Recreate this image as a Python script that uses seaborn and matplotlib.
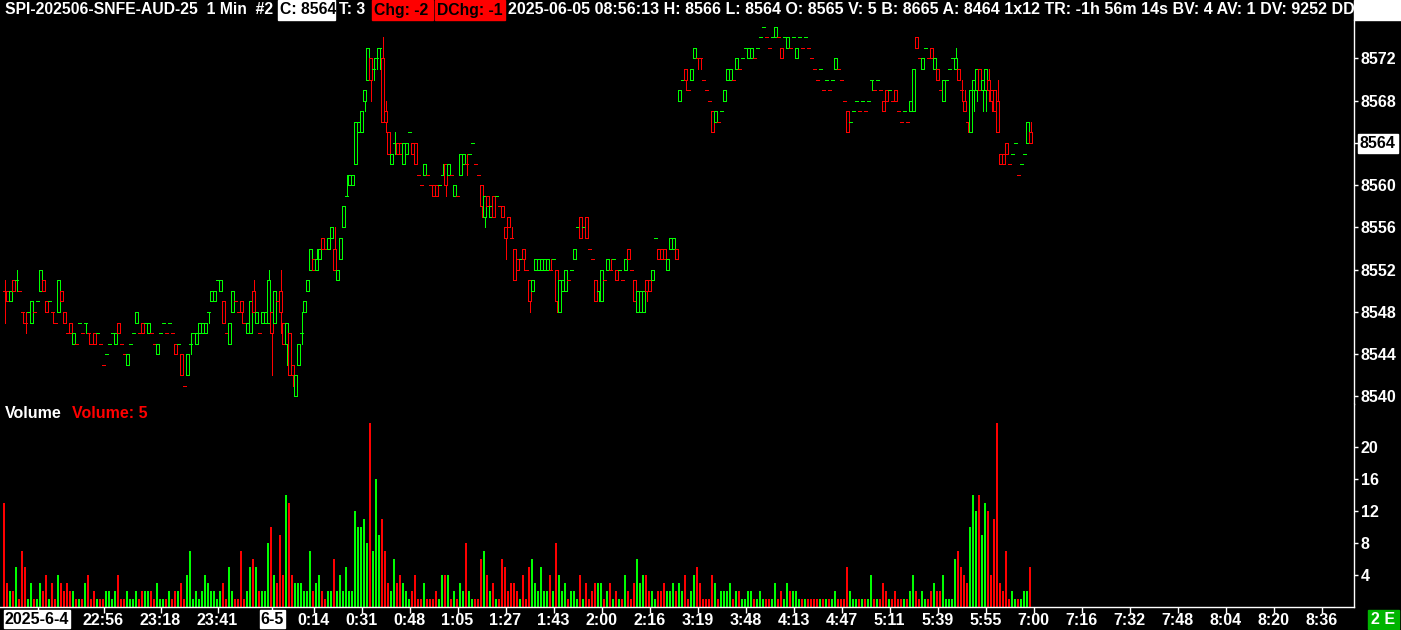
import numpy as np
import pandas as pd
import matplotlib
matplotlib.use("Agg")
import matplotlib.pyplot as plt
from matplotlib.patches import Rectangle
import seaborn as sns

# 1-minute bars, SPI futures (bar index 0..342)
opens = [
    8550, 8550, 8549, 8551, 8551, 8550, 8548, 8547, 8548, 8547,
    8548, 8549, 8550, 8551, 8549, 8549, 8548, 8547, 8548, 8550,
    8548, 8546, 8547, 8545, 8545, 8547, 8546, 8547, 8546, 8545,
    8546, 8546, 8545, 8543, 8544, 8545, 8546, 8545, 8547, 8545,
    8544, 8543, 8545, 8546, 8547, 8546, 8547, 8547, 8546, 8546,
    8545, 8544, 8546, 8547, 8546, 8547, 8546, 8545, 8545, 8544,
    8541, 8542, 8545, 8546, 8545, 8546, 8546, 8546, 8548, 8549,
    8549, 8551, 8550, 8549, 8546, 8545, 8548, 8549, 8548, 8549,
    8547, 8546, 8546, 8550, 8547, 8546, 8547, 8547, 8547, 8548,
    8547, 8549, 8550, 8547, 8545, 8546, 8543, 8540, 8543, 8546,
    8548, 8550, 8552, 8553, 8552, 8553, 8555, 8554, 8554, 8555,
    8554, 8551, 8553, 8556, 8559, 8560, 8560, 8562, 8565, 8565,
    8568, 8570, 8572, 8571, 8572, 8573, 8572, 8567, 8565, 8562,
    8564, 8564, 8564, 8562, 8563, 8565, 8564, 8564, 8561, 8560,
    8561, 8561, 8560, 8560, 8560, 8560, 8561, 8562, 8561, 8561,
    8559, 8559, 8561, 8562, 8562, 8563, 8564, 8562, 8561, 8560,
    8557, 8559, 8557, 8559, 8559, 8558, 8558, 8556, 8557, 8555,
    8554, 8553, 8553, 8554, 8552, 8551, 8550, 8552, 8552, 8552,
    8552, 8552, 8552, 8553, 8552, 8548, 8550, 8550, 8551, 8552,
    8553, 8556, 8557, 8556, 8557, 8554, 8553, 8551, 8550, 8549,
    8551, 8552, 8552, 8553, 8552, 8552, 8551, 8552, 8554, 8552,
    8551, 8548, 8548, 8548, 8551, 8551, 8551, 8555, 8554, 8554,
    8554, 8552, 8554, 8554, 8554, 8568, 8570, 8571, 8569, 8570,
    8572, 8572, 8572, 8570, 8569, 8568, 8567, 8566, 8566, 8567,
    8568, 8570, 8570, 8570, 8571, 8571, 8572, 8573, 8572, 8572,
    8572, 8573, 8574, 8575, 8574, 8573, 8574, 8574, 8574, 8573,
    8574, 8573, 8573, 8574, 8572, 8574, 8573, 8574, 8573, 8572,
    8571, 8570, 8571, 8569, 8570, 8569, 8570, 8571, 8571, 8570,
    8568, 8567, 8566, 8567, 8568, 8567, 8568, 8567, 8568, 8570,
    8569, 8570, 8569, 8568, 8569, 8569, 8568, 8569, 8567, 8566,
    8567, 8566, 8567, 8567, 8574, 8572, 8571, 8573, 8572, 8573,
    8571, 8571, 8569, 8568, 8570, 8571, 8572, 8571, 8571, 8569,
    8568, 8566, 8565, 8569, 8569, 8571, 8569, 8569, 8570, 8569,
    8569, 8568, 8563, 8563, 8564, 8562, 8563, 8564, 8561, 8562,
    8563, 8564, 8565,
]
highs = [
    8551, 8550, 8550, 8551, 8552, 8550, 8548, 8548, 8548, 8549,
    8548, 8549, 8552, 8551, 8549, 8549, 8548, 8547, 8551, 8550,
    8548, 8546, 8547, 8546, 8545, 8547, 8546, 8547, 8546, 8545,
    8546, 8546, 8545, 8543, 8544, 8545, 8546, 8546, 8547, 8545,
    8544, 8544, 8545, 8546, 8548, 8546, 8547, 8547, 8547, 8546,
    8545, 8545, 8546, 8547, 8546, 8547, 8546, 8545, 8545, 8544,
    8541, 8544, 8546, 8546, 8546, 8547, 8547, 8547, 8548, 8550,
    8550, 8551, 8551, 8549, 8546, 8547, 8550, 8549, 8548, 8549,
    8547, 8547, 8549, 8551, 8548, 8546, 8548, 8548, 8552, 8548,
    8550, 8549, 8552, 8547, 8547, 8546, 8543, 8542, 8545, 8548,
    8549, 8551, 8554, 8553, 8554, 8554, 8555, 8554, 8555, 8556,
    8556, 8552, 8555, 8558, 8561, 8561, 8561, 8566, 8566, 8567,
    8569, 8573, 8572, 8572, 8573, 8573, 8574, 8568, 8565, 8563,
    8565, 8564, 8564, 8564, 8564, 8565, 8564, 8564, 8561, 8560,
    8562, 8561, 8560, 8560, 8560, 8560, 8562, 8562, 8562, 8561,
    8560, 8559, 8563, 8563, 8563, 8563, 8564, 8562, 8561, 8560,
    8559, 8559, 8558, 8559, 8559, 8558, 8558, 8556, 8557, 8556,
    8554, 8553, 8553, 8554, 8552, 8551, 8551, 8553, 8553, 8553,
    8553, 8553, 8553, 8553, 8552, 8551, 8551, 8552, 8551, 8552,
    8554, 8556, 8557, 8556, 8557, 8554, 8553, 8551, 8550, 8552,
    8551, 8553, 8553, 8553, 8552, 8552, 8551, 8553, 8554, 8552,
    8551, 8550, 8550, 8550, 8551, 8551, 8552, 8555, 8554, 8554,
    8554, 8553, 8555, 8555, 8554, 8569, 8570, 8571, 8569, 8571,
    8573, 8572, 8572, 8570, 8569, 8568, 8567, 8567, 8566, 8567,
    8569, 8571, 8571, 8570, 8572, 8571, 8572, 8573, 8573, 8573,
    8572, 8573, 8574, 8575, 8574, 8573, 8574, 8575, 8574, 8573,
    8574, 8574, 8573, 8574, 8573, 8574, 8573, 8574, 8573, 8572,
    8571, 8570, 8571, 8569, 8570, 8569, 8570, 8572, 8571, 8570,
    8568, 8567, 8566, 8567, 8568, 8567, 8568, 8567, 8568, 8570,
    8569, 8570, 8569, 8568, 8569, 8569, 8568, 8569, 8567, 8566,
    8567, 8566, 8568, 8571, 8574, 8572, 8572, 8573, 8572, 8573,
    8572, 8571, 8569, 8570, 8570, 8571, 8572, 8573, 8571, 8570,
    8569, 8566, 8569, 8570, 8571, 8571, 8570, 8571, 8571, 8569,
    8569, 8570, 8563, 8563, 8564, 8562, 8563, 8564, 8561, 8562,
    8563, 8566, 8566,
]
lows = [
    8547, 8549, 8549, 8550, 8550, 8550, 8547, 8546, 8548, 8547,
    8548, 8549, 8550, 8550, 8548, 8549, 8547, 8547, 8548, 8549,
    8547, 8546, 8546, 8545, 8545, 8547, 8546, 8546, 8545, 8545,
    8545, 8546, 8545, 8543, 8544, 8545, 8546, 8545, 8546, 8545,
    8544, 8543, 8545, 8546, 8547, 8546, 8546, 8547, 8546, 8546,
    8545, 8544, 8546, 8547, 8546, 8547, 8546, 8544, 8545, 8542,
    8541, 8542, 8544, 8546, 8545, 8546, 8546, 8546, 8547, 8549,
    8549, 8551, 8550, 8547, 8546, 8545, 8548, 8549, 8548, 8547,
    8547, 8546, 8546, 8548, 8547, 8546, 8547, 8547, 8547, 8542,
    8547, 8549, 8546, 8545, 8543, 8542, 8541, 8540, 8543, 8545,
    8548, 8550, 8552, 8552, 8552, 8553, 8554, 8554, 8554, 8555,
    8552, 8551, 8553, 8556, 8559, 8560, 8560, 8562, 8565, 8565,
    8567, 8570, 8568, 8570, 8571, 8571, 8566, 8565, 8563, 8562,
    8563, 8563, 8563, 8562, 8563, 8565, 8563, 8562, 8561, 8560,
    8561, 8561, 8560, 8559, 8559, 8560, 8561, 8559, 8561, 8561,
    8559, 8559, 8561, 8562, 8561, 8563, 8564, 8562, 8561, 8557,
    8556, 8558, 8557, 8557, 8559, 8558, 8557, 8553, 8556, 8555,
    8551, 8552, 8553, 8552, 8552, 8548, 8550, 8552, 8552, 8552,
    8552, 8552, 8552, 8553, 8548, 8548, 8550, 8550, 8551, 8552,
    8553, 8556, 8555, 8556, 8555, 8554, 8553, 8549, 8549, 8549,
    8551, 8552, 8552, 8553, 8551, 8552, 8551, 8552, 8553, 8552,
    8549, 8548, 8548, 8548, 8549, 8550, 8551, 8555, 8553, 8553,
    8553, 8552, 8554, 8554, 8553, 8568, 8570, 8569, 8569, 8570,
    8572, 8571, 8571, 8570, 8569, 8568, 8565, 8566, 8566, 8567,
    8568, 8570, 8570, 8570, 8571, 8571, 8572, 8573, 8572, 8572,
    8572, 8573, 8574, 8575, 8574, 8573, 8574, 8574, 8574, 8572,
    8574, 8573, 8573, 8574, 8572, 8574, 8573, 8574, 8573, 8572,
    8571, 8570, 8571, 8569, 8570, 8569, 8570, 8571, 8571, 8570,
    8568, 8565, 8566, 8567, 8568, 8567, 8568, 8567, 8568, 8569,
    8569, 8570, 8569, 8567, 8568, 8569, 8568, 8568, 8567, 8566,
    8567, 8566, 8567, 8567, 8573, 8572, 8571, 8573, 8572, 8572,
    8571, 8570, 8569, 8568, 8570, 8571, 8572, 8571, 8570, 8568,
    8567, 8565, 8565, 8567, 8568, 8569, 8567, 8567, 8568, 8567,
    8567, 8565, 8562, 8562, 8563, 8562, 8563, 8564, 8561, 8562,
    8563, 8564, 8564,
]
closes = [
    8550, 8549, 8550, 8550, 8551, 8550, 8548, 8547, 8548, 8549,
    8548, 8549, 8552, 8550, 8548, 8549, 8548, 8547, 8551, 8549,
    8547, 8546, 8546, 8546, 8545, 8547, 8546, 8547, 8546, 8545,
    8545, 8546, 8545, 8543, 8544, 8545, 8546, 8546, 8546, 8545,
    8544, 8544, 8545, 8546, 8548, 8546, 8546, 8547, 8547, 8546,
    8545, 8545, 8546, 8547, 8546, 8547, 8546, 8544, 8545, 8542,
    8541, 8544, 8545, 8546, 8546, 8547, 8547, 8547, 8548, 8550,
    8550, 8551, 8551, 8547, 8546, 8547, 8550, 8549, 8548, 8548,
    8547, 8547, 8549, 8548, 8548, 8546, 8548, 8548, 8551, 8546,
    8550, 8549, 8548, 8545, 8547, 8542, 8542, 8542, 8545, 8546,
    8549, 8551, 8554, 8552, 8553, 8554, 8554, 8554, 8555, 8556,
    8552, 8552, 8555, 8558, 8559, 8561, 8561, 8566, 8566, 8567,
    8569, 8573, 8570, 8571, 8572, 8573, 8566, 8566, 8563, 8563,
    8564, 8563, 8563, 8564, 8564, 8565, 8563, 8562, 8561, 8560,
    8562, 8561, 8560, 8559, 8559, 8560, 8561, 8560, 8562, 8561,
    8560, 8559, 8563, 8563, 8562, 8563, 8564, 8562, 8561, 8558,
    8559, 8558, 8558, 8557, 8559, 8558, 8557, 8555, 8556, 8555,
    8551, 8552, 8553, 8553, 8552, 8549, 8551, 8553, 8553, 8553,
    8553, 8553, 8552, 8553, 8549, 8551, 8551, 8552, 8551, 8552,
    8554, 8556, 8555, 8556, 8555, 8554, 8553, 8549, 8550, 8552,
    8551, 8553, 8552, 8553, 8551, 8552, 8551, 8553, 8553, 8552,
    8549, 8550, 8550, 8550, 8550, 8550, 8552, 8555, 8553, 8553,
    8553, 8553, 8555, 8555, 8553, 8569, 8570, 8570, 8569, 8571,
    8573, 8572, 8572, 8570, 8569, 8568, 8565, 8567, 8566, 8567,
    8569, 8571, 8571, 8570, 8572, 8571, 8572, 8573, 8573, 8573,
    8572, 8573, 8574, 8575, 8574, 8573, 8574, 8575, 8574, 8572,
    8574, 8574, 8573, 8574, 8573, 8574, 8573, 8574, 8573, 8572,
    8571, 8570, 8571, 8569, 8570, 8569, 8570, 8572, 8571, 8570,
    8568, 8565, 8566, 8567, 8568, 8567, 8568, 8567, 8568, 8570,
    8569, 8570, 8569, 8567, 8568, 8569, 8568, 8568, 8567, 8566,
    8567, 8566, 8568, 8571, 8573, 8572, 8572, 8573, 8572, 8572,
    8572, 8570, 8569, 8570, 8570, 8571, 8572, 8572, 8570, 8569,
    8567, 8566, 8569, 8570, 8571, 8569, 8570, 8571, 8569, 8568,
    8567, 8565, 8562, 8562, 8563, 8562, 8563, 8564, 8561, 8562,
    8563, 8566, 8564,
]
volumes = [
    13, 3, 2, 2, 5, 1, 7, 5, 1, 3,
    1, 1, 3, 2, 4, 1, 3, 1, 4, 3,
    2, 3, 2, 2, 1, 1, 1, 3, 4, 1,
    2, 1, 1, 1, 2, 2, 1, 2, 4, 1,
    1, 2, 1, 1, 2, 1, 2, 2, 2, 2,
    1, 3, 1, 1, 1, 2, 1, 2, 2, 3,
    1, 4, 7, 1, 2, 1, 2, 4, 3, 2,
    2, 1, 2, 3, 1, 5, 2, 1, 1, 7,
    1, 2, 5, 6, 5, 2, 2, 2, 8, 10,
    4, 3, 9, 4, 14, 13, 4, 3, 3, 3,
    2, 2, 7, 2, 3, 4, 2, 1, 2, 2,
    6, 2, 4, 2, 5, 2, 2, 12, 10, 10,
    11, 8, 23, 7, 16, 9, 11, 7, 3, 2,
    6, 3, 4, 3, 2, 1, 2, 4, 1, 1,
    3, 1, 1, 1, 2, 1, 4, 4, 4, 1,
    2, 1, 3, 2, 8, 2, 1, 1, 1, 6,
    7, 4, 2, 3, 1, 1, 6, 5, 2, 3,
    3, 2, 1, 4, 1, 5, 6, 3, 2, 5,
    2, 2, 4, 2, 8, 4, 2, 3, 1, 2,
    2, 1, 4, 1, 3, 1, 2, 3, 3, 3,
    1, 2, 3, 1, 2, 1, 1, 4, 2, 1,
    3, 6, 3, 4, 4, 2, 2, 1, 2, 2,
    3, 2, 2, 3, 2, 3, 2, 4, 1, 2,
    4, 5, 3, 1, 1, 1, 4, 3, 1, 2,
    2, 2, 3, 1, 2, 2, 1, 1, 2, 2,
    1, 1, 2, 1, 1, 1, 1, 3, 1, 2,
    1, 3, 2, 2, 2, 1, 1, 1, 1, 1,
    1, 1, 1, 1, 1, 1, 1, 2, 1, 1,
    1, 5, 2, 1, 1, 1, 1, 1, 1, 4,
    1, 1, 1, 3, 2, 1, 1, 2, 1, 1,
    1, 1, 2, 4, 2, 1, 2, 1, 1, 2,
    3, 2, 2, 4, 1, 1, 1, 6, 7, 5,
    4, 3, 10, 14, 12, 14, 9, 13, 12, 4,
    11, 23, 3, 2, 7, 1, 2, 1, 1, 1,
    2, 2, 5,
]

# time axis labels (bar index where each label sits)
tick_bars = [33, 52, 71, 103, 119, 135, 151, 167, 183, 199, 215, 231, 247,
             263, 279, 295, 311, 327, 343, 359, 375, 391, 407, 423, 439]
tick_labels = ['22:56', '23:18', '23:41', '0:14', '0:31', '0:48', '1:05', '1:27',
               '1:43', '2:00', '2:16', '3:19', '3:48', '4:13', '4:47', '5:11',
               '5:39', '5:55', '7:00', '7:16', '7:32', '7:48', '8:04', '8:20', '8:36']
price_ticks = [8540, 8544, 8548, 8552, 8556, 8560, 8564, 8568, 8572]
volume_ticks = [4, 8, 12, 16, 20]

GREEN = '#00ff00'
RED = '#ff0000'
FS = 11.3

sns.set_theme(style="dark", rc={"axes.facecolor": "black", "figure.facecolor": "black"})
plt.rcParams['font.family'] = ['Liberation Sans', 'DejaVu Sans']
plt.rcParams['font.weight'] = 'bold'

n = len(closes)
df = pd.DataFrame({'bar': np.arange(n), 'open': opens, 'high': highs,
                   'low': lows, 'close': closes, 'volume': volumes})

# up/down colour: close vs open, doji bars compared with the previous close
dirs = []
last = 'down'
for i in range(n):
    o, c = opens[i], closes[i]
    if c > o:
        d = 'up'
    elif c < o:
        d = 'down'
    elif i > 0 and c > closes[i - 1]:
        d = 'up'
    elif i > 0 and c < closes[i - 1]:
        d = 'down'
    else:
        d = last
    dirs.append(d)
    last = d
df['dir'] = dirs
colors = df['dir'].map({'up': GREEN, 'down': RED}).tolist()
# volume columns are 2px wide, left-aligned to the candle centre
df['slot'] = df['bar'] - 1 / 6

W, H = 1401, 630
fig = plt.figure(figsize=(W / 100, H / 100), dpi=100)
ax = fig.add_axes([0, 1 - 404 / H, 1354 / W, 384 / H])
axv = fig.add_axes([0, 1 - 607 / H, 1354 / W, 203 / H])

# candles: 1px wick, hollow 3px body
ax.vlines(df['bar'], df['low'], df['high'], colors=colors, linewidth=0.6,
          antialiased=False, zorder=2)
body_lo = np.minimum(df['open'], df['close'])
body_h = np.abs(df['close'] - df['open'])
ax.bar(df['bar'], body_h, bottom=body_lo, width=0.667, facecolor='black',
       edgecolor=colors, linewidth=0.6, antialiased=False, zorder=3)

# volume
sns.barplot(data=df, x='slot', y='volume', hue='dir', palette={'up': GREEN, 'down': RED},
            native_scale=True, width=0.6, dodge=False, saturation=1, errorbar=None,
            legend=False, linewidth=0, antialiased=False, ax=axv)

# bar i sits at pixel column 4 + 3*i
xlim = (-1.5, -1.5 + 1354 / 3)
for a in (ax, axv):
    a.set_xlim(*xlim)
    a.set_facecolor('black')
    a.grid(False)
    a.set_xlabel('')
    a.set_ylabel('')
    for s in ('top', 'left'):
        a.spines[s].set_visible(False)
    a.spines['right'].set_color('white')
    a.spines['right'].set_linewidth(1)
    a.yaxis.tick_right()
    a.tick_params(axis='y', colors='white', direction='out', length=3, width=1,
                  pad=2, labelsize=11.5)

ax.spines['bottom'].set_visible(False)
ax.set_ylim(8539.29, 8575.64)
ax.set_yticks(price_ticks)
ax.set_yticklabels(['' if p == 8564 else str(p) for p in price_ticks])
ax.tick_params(axis='x', bottom=False, labelbottom=False)

axv.set_ylim(0, 25.375)
axv.set_yticks(volume_ticks)
axv.set_yticklabels([str(v) for v in volume_ticks])
axv.spines['bottom'].set_color('white')
axv.spines['bottom'].set_linewidth(1)
axv.set_xticks([11, 89] + tick_bars)
axv.set_xticklabels(['', ''] + tick_labels)
axv.tick_params(axis='x', colors='white', direction='out', length=4, width=1,
                pad=0.5, labelsize=11.5, bottom=True)

# overlay in pixel coordinates for the header and boxed labels
ov = fig.add_axes([0, 0, 1, 1])
ov.set_xlim(0, W)
ov.set_ylim(H, 0)
ov.axis('off')

def label(x, y, s, color='white', ha='left', z=5, size=FS):
    ov.text(x, y, s, color=color, ha=ha, va='center', fontsize=size,
            fontweight='bold', zorder=z)

label(5, 10, 'SPI-202506-SNFE-AUD-25  1 Min  #2')
ov.add_patch(Rectangle((278, 0), 57, 20, color='white', zorder=4))
label(280, 10, 'C: 8564', color='black')
label(339, 10, 'T: 3')
ov.add_patch(Rectangle((372, 0), 61, 20, color=RED, zorder=4))
label(374, 10, 'Chg: -2', color='black')
ov.add_patch(Rectangle((435, 0), 70, 20, color=RED, zorder=4))
label(437, 10, 'DChg: -1', color='black')
label(508, 10, '2025-06-05 08:56:13 H: 8566 L: 8564 O: 8565 V: 5 B: 8665 A: 8464 '
               '1x12 TR: -1h 56m 14s BV: 4 AV: 1 DV: 9252 DD', size=11.5)
ov.add_patch(Rectangle((1354, 0), 47, 20, color='white', zorder=8))

label(5, 413, 'Volume', size=11.5)
label(72, 413, 'Volume: 5', color=RED, size=11.5)

ov.add_patch(Rectangle((1358, 134), 40, 19, color='white', zorder=4))
label(1360, 143.5, '8564', color='black', size=11.5)

ov.add_patch(Rectangle((4, 610), 66, 18, color='white', zorder=4))
label(37, 619, '2025-6-4', color='black', ha='center', size=11.5)
ov.add_patch(Rectangle((260, 610), 25, 18, color='white', zorder=4))
label(272.5, 619, '6-5', color='black', ha='center', size=11.5)
ov.add_patch(Rectangle((1368, 610), 31, 19, color='#00b400', zorder=4))
label(1383.5, 619.5, '2 E', color='white', ha='center', size=11.5)

fig.savefig('out.png', dpi=100, facecolor='black')
